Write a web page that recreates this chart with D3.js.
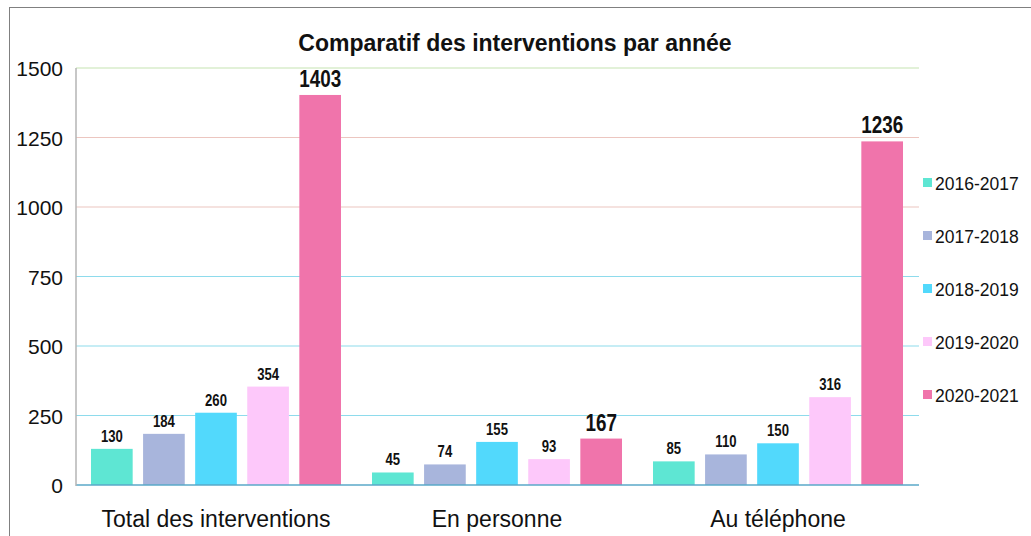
<!DOCTYPE html>
<html lang="fr">
<head>
<meta charset="UTF-8">
<title>Comparatif des interventions par année</title>
<script src="https://d3js.org/d3.v7.min.js"></script>
<style>
  body { margin: 0; background: #fff; }
  svg { display: block; font-family: "Liberation Sans", Arial, sans-serif; }
  .val { font-weight: bold; fill: #111; }
</style>
</head>
<body>
<div id="chart"></div>
<script>
// chart data
const categories = ["Total des interventions", "En personne", "Au téléphone"];
const seasons = ["2016-2017", "2017-2018", "2018-2019", "2019-2020", "2020-2021"];
const v2016 = [130, 45, 85];
const v2017 = [184, 74, 110];
const v2018 = [260, 155, 150];
const v2019 = [354, 93, 316];
const v2020 = [1403, 167, 1236];
const yTicks = [0, 250, 500, 750, 1000, 1250, 1500];

const seriesValues = [v2016, v2017, v2018, v2019, v2020];
const colors = ["#5ee6d3", "#a8b5dc", "#52d9fc", "#fdc8fa", "#f074ab"];
const gridColor = t => t === 0 ? "#5aa8c8" : t === 1500 ? "#c6e4b2" : t >= 1000 ? "#ecc6c0" : "#8edbec";

const W = 1031, H = 536;
const svg = d3.select("#chart").append("svg").attr("width", W).attr("height", H);

// outer frame
svg.append("rect").attr("x", 9.5).attr("y", 7.5).attr("width", 1040).attr("height", 600)
  .attr("fill", "none").attr("stroke", "#808080").attr("stroke-width", 1);

const x0 = d3.scaleBand().domain(categories).range([76, 919]);
const x1 = d3.scaleBand().domain(seasons).range([15, 265]).paddingInner(0.2);
const y = d3.scaleLinear().domain([0, 1500]).range([485, 68]);

// gridlines
svg.append("g").selectAll("line").data(yTicks.filter(t => t > 0)).join("line")
  .attr("x1", 76).attr("x2", 919)
  .attr("y1", d => y(d)).attr("y2", d => y(d))
  .attr("stroke", gridColor).attr("stroke-width", 1.2);

// y axis labels
const yAxis = svg.append("g").attr("transform", "translate(63,0)")
  .call(d3.axisLeft(y).tickValues(yTicks).tickFormat(d3.format("d")).tickSize(0).tickPadding(0));
yAxis.select(".domain").remove();
yAxis.selectAll("text").attr("font-size", 21).attr("font-family", "'Liberation Sans', Arial, sans-serif")
  .attr("fill", "#111").attr("dy", "0.36em");

// bars
const groups = svg.append("g").selectAll("g").data(categories).join("g")
  .attr("transform", d => `translate(${x0(d)},0)`);

groups.selectAll("rect")
  .data((c, i) => seasons.map((s, j) => ({ s, j, v: seriesValues[j][i] })))
  .join("rect")
  .attr("x", d => x1(d.s)).attr("width", x1.bandwidth())
  .attr("y", d => y(d.v)).attr("height", d => y(0) - y(d.v))
  .attr("fill", d => colors[d.j]);

// value labels, squeezed horizontally like a narrow font
groups.selectAll("text")
  .data((c, i) => seasons.map((s, j) => ({ s, j, v: seriesValues[j][i] })))
  .join("text")
  .attr("class", "val")
  .attr("transform", d => `translate(${x1(d.s) + x1.bandwidth() / 2},${y(d.v) - (d.j === 4 ? 8 : 7)}) scale(0.82,1)`)
  .attr("text-anchor", "middle")
  .attr("font-size", d => d.j === 4 ? 23 : 16)
  .text(d => d.v);

// axis lines
svg.append("line").attr("x1", 76).attr("x2", 919).attr("y1", y(0)).attr("y2", y(0))
  .attr("stroke", gridColor(0)).attr("stroke-width", 1.5);
svg.append("line").attr("x1", 76).attr("x2", 76).attr("y1", y(1500)).attr("y2", y(0) + 1)
  .attr("stroke", "#b4b4b4").attr("stroke-width", 1.5);

// category labels
svg.append("g").selectAll("text").data(categories).join("text")
  .attr("x", d => x0(d) + 15 + 125)
  .attr("y", 527)
  .attr("text-anchor", "middle")
  .attr("font-size", 23)
  .attr("fill", "#111")
  .text(d => d);

// title
svg.append("text").attr("x", 515).attr("y", 51).attr("text-anchor", "middle")
  .attr("font-size", 23).attr("font-weight", "bold").attr("fill", "#111")
  .text("Comparatif des interventions par année");

// legend
const legend = svg.append("g").selectAll("g").data(seasons).join("g")
  .attr("transform", (d, i) => `translate(923,${190 + i * 53})`);
legend.append("rect").attr("x", 0).attr("y", -12).attr("width", 9).attr("height", 9)
  .attr("fill", (d, i) => colors[i]);
legend.append("text").attr("x", 12).attr("y", 0).attr("font-size", 17.5).attr("fill", "#111")
  .text(d => d);
</script>
</body>
</html>
